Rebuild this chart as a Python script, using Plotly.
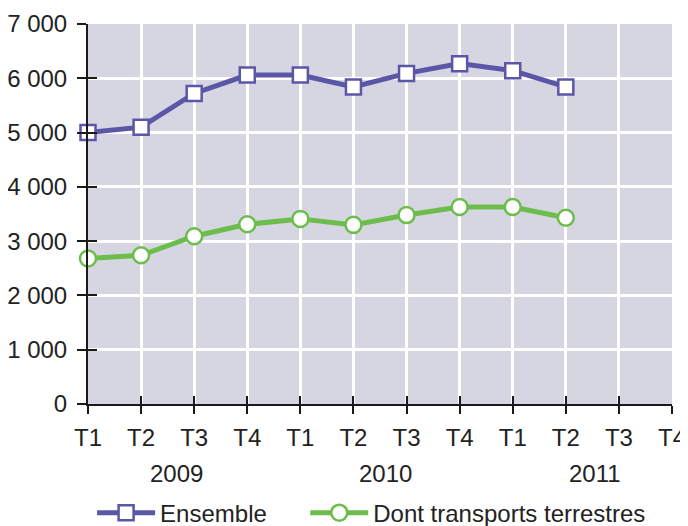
import plotly.graph_objects as go

quarters = ["T1", "T2", "T3", "T4"] * 3
years = ["2009", "2010", "2011"]
ensemble = [5000, 5100, 5720, 6060, 6060, 5840, 6090, 6270, 6140, 5840]
terrestres = [2680, 2740, 3090, 3310, 3410, 3300, 3480, 3630, 3630, 3430]
y_ticks = [0, 1000, 2000, 3000, 4000, 5000, 6000, 7000]

purple = "#5b57a6"
green = "#6cbd4c"
font = dict(family="Liberation Sans, Arial, sans-serif", size=24, color="#222222")

idx = list(range(len(quarters)))

fig = go.Figure()
fig.add_trace(go.Scatter(
    x=idx[:len(ensemble)], y=ensemble, name="Ensemble", mode="lines+markers",
    line=dict(color=purple, width=5),
    marker=dict(symbol="square", size=15, color="white", line=dict(color=purple, width=2.5)),
    cliponaxis=False, legend="legend"))
fig.add_trace(go.Scatter(
    x=idx[:len(terrestres)], y=terrestres, name="Dont transports terrestres", mode="lines+markers",
    line=dict(color=green, width=5),
    marker=dict(symbol="circle", size=16, color="white", line=dict(color=green, width=2.5)),
    cliponaxis=False, legend="legend2"))

year_pos = [1.66, 5.61, 9.55]
for yx, yr in zip(year_pos, years):
    fig.add_annotation(x=yx, y=0, xref="x", yref="paper", text=yr, showarrow=False,
                       yanchor="middle", yshift=-69, font=font)

legend_common = dict(orientation="h", y=-0.287, xanchor="left", yanchor="middle",
                     font=font, itemwidth=58, bgcolor="rgba(0,0,0,0)")

# the page body has an 8px margin, so the figure is sized to fit inside the window
fig.update_layout(
    width=680, height=518,
    margin=dict(l=80, r=16, t=16, b=122, autoexpand=False),
    paper_bgcolor="white", plot_bgcolor="#d6d6e2",
    separators=", ",
    font=font,
    showlegend=True,
    legend=dict(x=0.007, **legend_common),
    legend2=dict(x=0.372, **legend_common),
    xaxis=dict(range=[0, 11], tickmode="array", tickvals=idx, ticktext=quarters,
               automargin=False,
               showgrid=True, gridcolor="white", gridwidth=2.5, zeroline=False,
               showline=True, linecolor="#1a1a1a", linewidth=2,
               ticks="outside", ticklen=8, tickwidth=2, tickcolor="#1a1a1a",
               ticklabelstandoff=3),
    yaxis=dict(range=[0, 7000], tickmode="array", tickvals=y_ticks, tickformat=",d",
               automargin=False,
               showgrid=True, gridcolor="white", gridwidth=2.5, zeroline=False,
               showline=True, linecolor="#1a1a1a", linewidth=2,
               ticks="outside", ticklen=9, tickwidth=2, tickcolor="#1a1a1a",
               ticklabelstandoff=5),
    xaxis2=dict(overlaying="x", range=[0, 11], tickmode="array", tickvals=idx,
                automargin=False,
                showticklabels=False, showgrid=False, zeroline=False, showline=False,
                ticks="inside", ticklen=8, tickwidth=2, tickcolor="#1a1a1a", side="bottom"),
    yaxis2=dict(overlaying="y", range=[0, 7000], tickmode="array", tickvals=y_ticks,
                automargin=False,
                showticklabels=False, showgrid=False, zeroline=False, showline=False,
                ticks="inside", ticklen=9, tickwidth=2, tickcolor="#1a1a1a", side="left"),
)
# invisible trace to activate the tick overlay axes
fig.add_trace(go.Scatter(x=[0], y=[0], xaxis="x2", yaxis="y2", mode="markers",
                         marker=dict(opacity=0), showlegend=False, hoverinfo="skip"))

fig.write_html("out.html")
